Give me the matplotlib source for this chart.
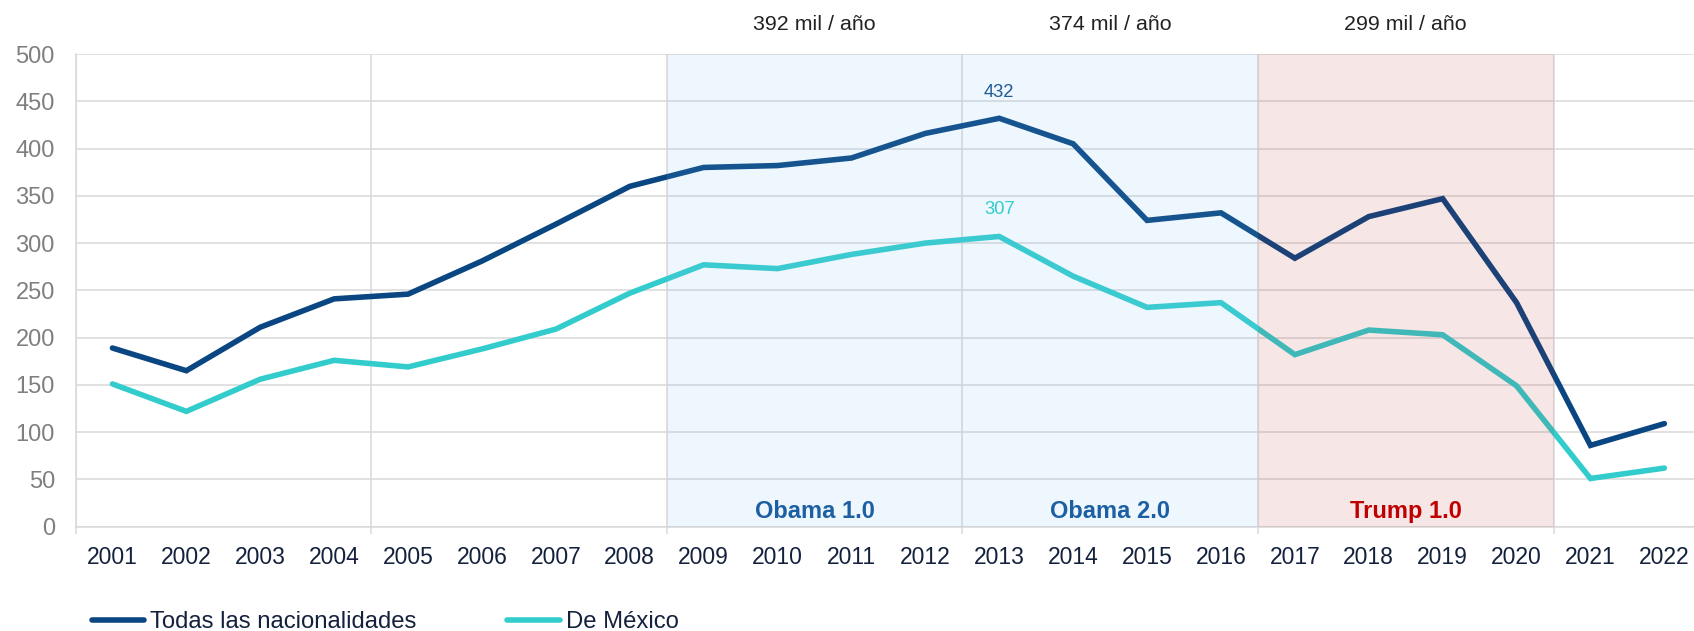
import matplotlib
matplotlib.use("Agg")
import matplotlib.pyplot as plt

plt.rcParams['font.family'] = ['Liberation Sans', 'DejaVu Sans']

# Detenciones / deportaciones anuales, miles
years = [str(y) for y in range(2001, 2023)]
todas = [189, 165, 211, 241, 246, 281, 320, 360, 380, 382, 390, 416,
         432, 405, 324, 332, 284, 328, 347, 237, 86, 109]
mexico = [151, 122, 156, 176, 169, 188, 209, 247, 277, 273, 288, 300,
          307, 265, 232, 237, 182, 208, 203, 149, 51, 62]

# periodos presidenciales: (inicio, fin) en indices de categoria
periodos = ["Obama 1.0", "Obama 2.0", "Trump 1.0"]
periodo_idx = [(8, 11), (12, 15), (16, 19)]
promedios = ["392 mil / año", "374 mil / año", "299 mil / año"]

navy = "#0A4682"
cyan = "#33CCCC"
grid_c = "#D9D9D9"
text_c = "#14213D"

x = list(range(len(years)))

fig = plt.figure(figsize=(16.94, 6.31), dpi=100)
ax = fig.add_axes([0.04457, 0.16529, 0.95975, 0.74913])

ax.plot(x, todas, color=navy, lw=4, solid_capstyle='round',
        solid_joinstyle='miter', zorder=2, label="Todas las nacionalidades")
ax.plot(x, mexico, color=cyan, lw=4, solid_capstyle='round',
        solid_joinstyle='miter', zorder=2, label="De México")

# sombreado encima de las lineas, muy transparente
ax.axvspan(periodo_idx[0][0] - 0.5, periodo_idx[1][1] + 0.5,
           color="#6EC0F0", alpha=0.12, lw=0, zorder=3)
ax.axvspan(periodo_idx[2][0] - 0.5, periodo_idx[2][1] + 0.5,
           color="#B41E1E", alpha=0.11, lw=0, zorder=3)

label_colors = ["#1C5FA3", "#1C5FA3", "#C00000"]
for name, (a, b), prom, c in zip(periodos, periodo_idx, promedios, label_colors):
    mid = (a + b) / 2
    ax.text(mid, 9, name, ha='center', va='baseline', fontsize=17,
            fontweight='bold', color=c, zorder=4)
    ax.text(mid, 525, prom, ha='center', va='baseline', fontsize=15.4,
            color="#222222", clip_on=False)

# valores maximos
i_max = todas.index(max(todas))
ax.annotate(str(todas[i_max]), (i_max, todas[i_max]), xytext=(0, 15.5),
            textcoords='offset points', ha='center', va='baseline',
            fontsize=13.2, color="#1F5C99", zorder=4)
j_max = mexico.index(max(mexico))
ax.annotate(str(mexico[j_max]), (j_max, mexico[j_max]), xytext=(0, 16),
            textcoords='offset points', ha='center', va='baseline',
            fontsize=13.2, color=cyan, zorder=4)

ax.set_xlim(-0.5, len(years) - 0.5)
ax.set_ylim(0, 500)
ax.set_yticks(range(0, 501, 50))

ax.set_xticks(x, labels=years)
ax.set_xticks([i - 0.5 for i in range(0, len(years), 4)], minor=True)
ax.tick_params(axis='x', which='major', length=0, pad=14, labelsize=16.5,
               labelcolor=text_c)
ax.tick_params(axis='x', which='minor', length=5, width=1.1, color=grid_c)
ax.tick_params(axis='y', length=0, pad=14.8, labelsize=17, labelcolor="#7F7F7F")

ax.grid(axis='y', color=grid_c, lw=1.1, zorder=0)
ax.grid(axis='x', which='minor', color=grid_c, lw=1.1, zorder=0)
ax.set_axisbelow(True)

for s in ['top', 'right']:
    ax.spines[s].set_visible(False)
for s in ['left', 'bottom']:
    ax.spines[s].set_color(grid_c)
    ax.spines[s].set_linewidth(1.1)

fig.legend(loc='center left', bbox_to_anchor=(91.5 / 1694, 9 / 631), ncol=2,
           frameon=False, fontsize=17.2, handlelength=2.2, handletextpad=0.25,
           columnspacing=3.8, borderpad=0, borderaxespad=0, labelcolor=text_c)

fig.savefig("out.png", dpi=100)
